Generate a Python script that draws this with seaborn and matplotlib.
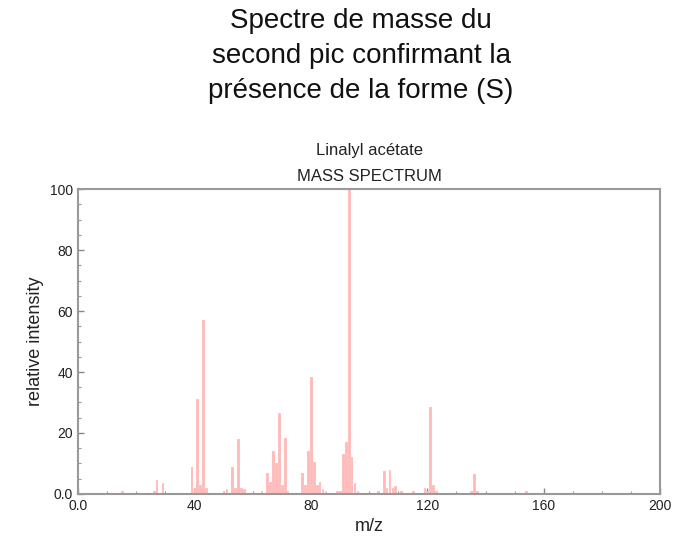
import numpy as np
import pandas as pd
import matplotlib.pyplot as plt
import seaborn as sns
from matplotlib.ticker import MultipleLocator

#### Mass spectrum of linalyl acetate

mz = [15, 26, 27, 29, 39, 40, 41, 42, 43, 44, 50, 51, 53, 54, 55, 56, 57,
      63, 65, 66, 67, 68, 69, 70, 71, 72, 77, 78, 79, 80, 81, 82, 83, 84, 85,
      89, 90, 91, 92, 93, 94, 95, 96, 103, 105, 106, 107, 108, 109, 111,
      115, 119, 120, 121, 122, 123, 135, 136, 137, 154]
intensity = [1, 1, 4.5, 3.5, 9, 2, 31, 3, 57, 2, 1, 1.5, 9, 2, 18, 2, 1.5,
             1, 7, 4, 14, 10, 26.5, 3, 18.5, 1, 7, 3, 14, 38.5, 10.5, 3, 4, 1.5, 1,
             1, 1, 13, 17, 100, 12, 3.5, 1, 1, 7.5, 2, 8, 2, 2.5, 1,
             1, 2, 1, 28.5, 3, 1, 1, 6.5, 1, 1]

x_ticks = [0, 40, 80, 120, 160, 200]
x_ticklabels = ['0.0', '40', '80', '120', '160', '200']
y_ticks = [0, 20, 40, 60, 80, 100]
y_ticklabels = ['0.0', '20', '40', '60', '80', '100']

spec = pd.DataFrame({'m/z': mz, 'relative intensity': intensity})

sns.set_theme(style='white')
plt.rcParams['font.family'] = ['Liberation Sans', 'DejaVu Sans']

fig = plt.figure(figsize=(6.75, 5.49), dpi=100)
ax = fig.add_axes([0.1156, 0.1002, 0.978 - 0.1156, 0.6557 - 0.1002])

sns.barplot(data=spec, x='m/z', y='relative intensity', native_scale=True,
            width=0.6, color='#ffbaba', saturation=1, ax=ax,
            edgecolor='#ffbaba', linewidth=0.6)

ax.set_xlim(0, 200)
ax.set_ylim(0, 100)
ax.set_xticks(x_ticks)
ax.set_xticklabels(x_ticklabels, fontsize=10)
ax.set_yticks(y_ticks)
ax.set_yticklabels(y_ticklabels, fontsize=10)
ax.xaxis.set_minor_locator(MultipleLocator(10))
ax.yaxis.set_minor_locator(MultipleLocator(5))
ax.tick_params(which='major', direction='in', length=4, width=1, color='#888888',
               bottom=True, left=True, labelcolor='#222222')
ax.tick_params(which='minor', direction='in', length=2, width=0.8, color='#999999',
               bottom=True, left=True)
for s in ax.spines.values():
    s.set_color('#999999')
    s.set_linewidth(1.5)

ax.set_xlabel('m/z', fontsize=13, color='#222222')
ax.set_ylabel('relative intensity', fontsize=13, color='#222222')
ax.set_title('Linalyl acétate\nMASS SPECTRUM', fontsize=12, color='#222222', pad=6,
             linespacing=1.9)

fig.text(0.535, 0.985, 'Spectre de masse du\nsecond pic confirmant la\nprésence de la forme (S)',
         ha='center', va='top', fontsize=20, linespacing=1.45, color='#111111')

plt.savefig('out.png', dpi=100)
